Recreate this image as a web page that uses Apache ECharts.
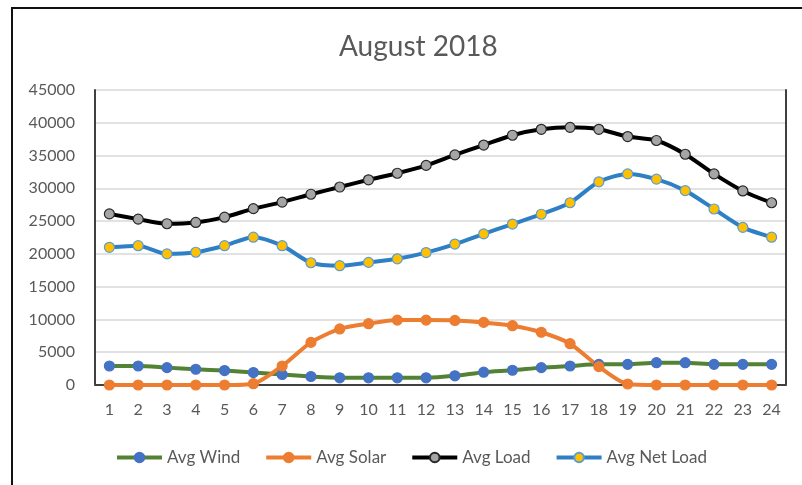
<!DOCTYPE html>
<html>
<head>
<meta charset="utf-8">
<title>August 2018</title>
<script src="https://cdn.jsdelivr.net/npm/echarts@6/dist/echarts.min.js"></script>
<style>
	html,body{margin:0;padding:0;background:#fff;}
	#myChart{width:802px;height:485px;}
	/* outer frame of the chart (only left and top are visible) */
	#frame{position:absolute;left:11px;top:7px;width:800px;height:490px;border-left:2px solid #111;border-top:2px solid #111;pointer-events:none;}
</style>
</head>
<body>
<div id="myChart"></div>
<div id="frame"></div>
<script>
//x轴 小时
let hours = [];
for (let h = 1; h <= 24; h++) { hours.push(String(h)); }

let yTicks = [0, 5000, 10000, 15000, 20000, 25000, 30000, 35000, 40000, 45000];

//数据
let avgWind = [2900, 2900, 2650, 2400, 2200, 1900, 1600, 1300, 1100, 1100, 1100, 1100,
	1400, 1950, 2250, 2650, 2900, 3150, 3150, 3400, 3400, 3150, 3150, 3150];
let avgSolar = [0, 0, 0, 0, 0, 200, 2900, 6500, 8550, 9350, 9900, 9900,
	9850, 9550, 9050, 8050, 6300, 2800, 150, 0, 0, 0, 0, 0];
let avgLoad = [26100, 25300, 24600, 24800, 25600, 26900, 27900, 29100, 30200, 31300, 32300, 33500,
	35100, 36600, 38100, 39000, 39300, 39000, 37900, 37300, 35200, 32200, 29600, 27800];
let avgNetLoad = [21000, 21250, 20000, 20250, 21250, 22550, 21250, 18650, 18200, 18700, 19250, 20200,
	21500, 23050, 24550, 26050, 27800, 31000, 32200, 31400, 29650, 26850, 24050, 22550];

let font = 'Lato';
let grey = '#595959';

function lineSeries(name, data, lineColor, fill, border) {
	return {
		name: name,
		type: 'line',
		data: data,
		smooth: 0.25,
		symbol: 'circle',
		symbolSize: 10,
		lineStyle: { color: lineColor, width: 4 },
		itemStyle: { color: fill, borderColor: border, borderWidth: 1.2 },
		emphasis: { disabled: true }
	};
}

let myChart = echarts.init(document.getElementById('myChart'));
let option = {
	animation: false,
	backgroundColor: '#fff',
	title: {
		text: 'August 2018',
		left: 334,
		top: 28,
		textStyle: { fontFamily: font, fontSize: 28, fontWeight: 'normal', color: grey }
	},
	legend: {
		top: 444,
		left: 110,
		itemWidth: 45,
		itemHeight: 12,
		itemGap: 24,
		lineStyle: { width: 4 },
		textStyle: { fontFamily: font, fontSize: 17, color: grey },
		data: ['Avg Wind', 'Avg Solar', 'Avg Load', 'Avg Net Load']
	},
	grid: { left: 95, right: 16, top: 90, bottom: 100 },
	xAxis: [{
		type: 'category',
		data: hours,
		boundaryGap: true,
		axisLine: { lineStyle: { color: '#d9d9d9', width: 1.5 } },
		axisTick: { show: false },
		axisLabel: { fontFamily: font, fontSize: 16, color: grey, margin: 17 }
	}, {
		//上边框
		type: 'category',
		data: hours,
		position: 'top',
		axisLine: { lineStyle: { color: '#404040', width: 2 } },
		axisTick: { show: false },
		axisLabel: { show: false }
	}],
	yAxis: [{
		type: 'value',
		min: yTicks[0],
		max: yTicks[yTicks.length - 1],
		interval: 5000,
		axisLine: { show: true, lineStyle: { color: '#404040', width: 2 } },
		axisTick: { show: false },
		axisLabel: {
			fontFamily: font, fontSize: 16, color: grey, margin: 20,
			formatter: function (v) { return String(v); }
		},
		splitLine: { lineStyle: { color: '#d9d9d9', width: 1.5 } }
	}, {
		//右边框
		type: 'value',
		min: yTicks[0],
		max: yTicks[yTicks.length - 1],
		interval: 5000,
		position: 'right',
		axisLine: { show: true, lineStyle: { color: '#404040', width: 2 } },
		axisTick: { show: false },
		axisLabel: { show: false },
		splitLine: { show: false }
	}],
	series: [
		lineSeries('Avg Wind', avgWind, '#548235', '#4472c4', '#4472c4'),
		lineSeries('Avg Solar', avgSolar, '#ed7d31', '#ed7d31', '#ed7d31'),
		lineSeries('Avg Load', avgLoad, '#000000', '#a5a5a5', '#262626'),
		lineSeries('Avg Net Load', avgNetLoad, '#2e7fc4', '#ffc000', '#5b9bd5')
	]
};
myChart.setOption(option);
</script>
</body>
</html>
